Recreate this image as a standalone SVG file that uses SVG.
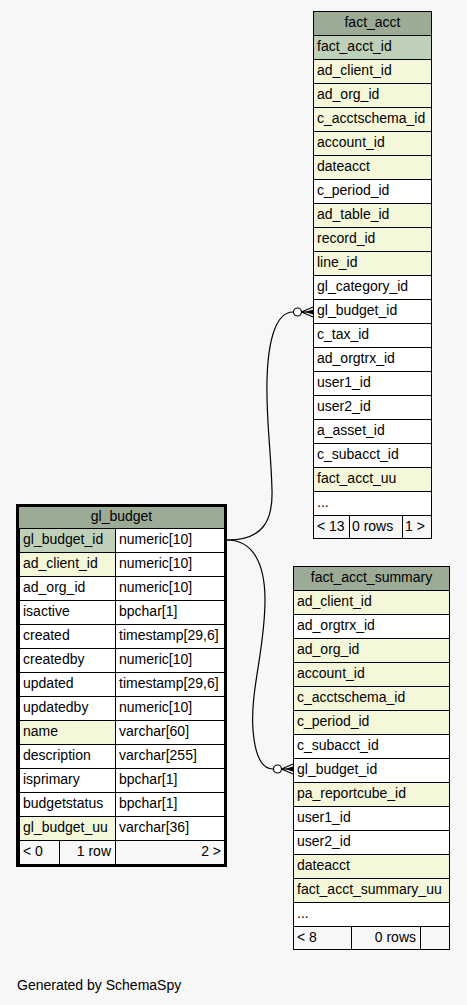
<svg xmlns="http://www.w3.org/2000/svg" width="467" height="1005" viewBox="0 0 467 1005">
<style>
text{font-family:"Liberation Sans",Arial,sans-serif;font-size:14px;fill:#000}
.c{text-anchor:middle}.r{text-anchor:end}
.t rect{stroke:#000;stroke-width:1}
.h{fill:#9bab96}.p{fill:#bed1b8}.y{fill:#f4f7da}.w{fill:#fff}.f{fill:#f7f7f7}
.e{fill:none;stroke:#000;stroke-width:1.2}
</style>
<rect x="0" y="0" width="467" height="1005" fill="#f7f7f7"/>
<g id="connectors">
<path class="e" d="M227,540 C262,540 273,522 272,490 C271,450 266,420 267,380 C268,340 276,312 293,312"/>
<path class="e" d="M227,540 C252,540 265,562 265,600 C265,650 250,690 253,730 C255,755 262,769 273,769"/>
<circle cx="297.5" cy="312" r="4" fill="#fff" stroke="#000" stroke-width="1.2"/>
<path d="M301.5,312 L313,307 M301.5,312 L313,312 M301.5,312 L313,317" stroke="#000" stroke-width="1.2" fill="none"/>
<path d="M305,312 L313,309.5 L313,314.5 Z" fill="#000"/>
<circle cx="277.5" cy="769" r="4" fill="#fff" stroke="#000" stroke-width="1.2"/>
<path d="M281.5,769 L293,764 M281.5,769 L293,769 M281.5,769 L293,774" stroke="#000" stroke-width="1.2" fill="none"/>
<path d="M285,769 L293,766.5 L293,771.5 Z" fill="#000"/>
</g>
<g id="fact_acct" class="t">
<rect class="h" x="313.5" y="11.5" width="118" height="24"/><text class="c" x="372.5" y="27">fact_acct</text>
<rect class="p" x="313.5" y="35.5" width="118" height="24"/><text x="317" y="51">fact_acct_id</text>
<rect class="y" x="313.5" y="59.5" width="118" height="24"/><text x="317" y="75">ad_client_id</text>
<rect class="y" x="313.5" y="83.5" width="118" height="24"/><text x="317" y="99">ad_org_id</text>
<rect class="y" x="313.5" y="107.5" width="118" height="24"/><text x="317" y="123">c_acctschema_id</text>
<rect class="y" x="313.5" y="131.5" width="118" height="24"/><text x="317" y="147">account_id</text>
<rect class="y" x="313.5" y="155.5" width="118" height="24"/><text x="317" y="171">dateacct</text>
<rect class="w" x="313.5" y="179.5" width="118" height="24"/><text x="317" y="195">c_period_id</text>
<rect class="y" x="313.5" y="203.5" width="118" height="24"/><text x="317" y="219">ad_table_id</text>
<rect class="y" x="313.5" y="227.5" width="118" height="24"/><text x="317" y="243">record_id</text>
<rect class="y" x="313.5" y="251.5" width="118" height="24"/><text x="317" y="267">line_id</text>
<rect class="w" x="313.5" y="275.5" width="118" height="24"/><text x="317" y="291">gl_category_id</text>
<rect class="w" x="313.5" y="299.5" width="118" height="24"/><text x="317" y="315">gl_budget_id</text>
<rect class="w" x="313.5" y="323.5" width="118" height="24"/><text x="317" y="339">c_tax_id</text>
<rect class="w" x="313.5" y="347.5" width="118" height="24"/><text x="317" y="363">ad_orgtrx_id</text>
<rect class="w" x="313.5" y="371.5" width="118" height="24"/><text x="317" y="387">user1_id</text>
<rect class="w" x="313.5" y="395.5" width="118" height="24"/><text x="317" y="411">user2_id</text>
<rect class="w" x="313.5" y="419.5" width="118" height="24"/><text x="317" y="435">a_asset_id</text>
<rect class="w" x="313.5" y="443.5" width="118" height="24"/><text x="317" y="459">c_subacct_id</text>
<rect class="y" x="313.5" y="467.5" width="118" height="24"/><text x="317" y="483">fact_acct_uu</text>
<rect class="w" x="313.5" y="491.5" width="118" height="24"/><text x="317" y="507">...</text>
<rect class="f" x="313.5" y="515.5" width="36" height="23"/><text x="317" y="531">&lt; 13</text>
<rect class="f" x="349.5" y="515.5" width="53" height="23"/><text x="352" y="531">0 rows</text>
<rect class="f" x="402.5" y="515.5" width="29" height="23"/><text x="405" y="531">1 &gt;</text>
</g>
<g id="gl_budget" class="t">
<rect class="h" x="19" y="506" width="205" height="22.5" style="stroke:none"/><text class="c" x="121.5" y="521">gl_budget</text>
<rect class="p" x="19.5" y="528.5" width="96" height="24"/><rect class="w" x="115.5" y="528.5" width="109" height="24"/>
<text x="23" y="544">gl_budget_id</text><text x="119" y="544">numeric[10]</text>
<rect class="y" x="19.5" y="552.5" width="96" height="24"/><rect class="w" x="115.5" y="552.5" width="109" height="24"/>
<text x="23" y="568">ad_client_id</text><text x="119" y="568">numeric[10]</text>
<rect class="w" x="19.5" y="576.5" width="96" height="24"/><rect class="w" x="115.5" y="576.5" width="109" height="24"/>
<text x="23" y="592">ad_org_id</text><text x="119" y="592">numeric[10]</text>
<rect class="w" x="19.5" y="600.5" width="96" height="24"/><rect class="w" x="115.5" y="600.5" width="109" height="24"/>
<text x="23" y="616">isactive</text><text x="119" y="616">bpchar[1]</text>
<rect class="w" x="19.5" y="624.5" width="96" height="24"/><rect class="w" x="115.5" y="624.5" width="109" height="24"/>
<text x="23" y="640">created</text><text x="119" y="640">timestamp[29,6]</text>
<rect class="w" x="19.5" y="648.5" width="96" height="24"/><rect class="w" x="115.5" y="648.5" width="109" height="24"/>
<text x="23" y="664">createdby</text><text x="119" y="664">numeric[10]</text>
<rect class="w" x="19.5" y="672.5" width="96" height="24"/><rect class="w" x="115.5" y="672.5" width="109" height="24"/>
<text x="23" y="688">updated</text><text x="119" y="688">timestamp[29,6]</text>
<rect class="w" x="19.5" y="696.5" width="96" height="24"/><rect class="w" x="115.5" y="696.5" width="109" height="24"/>
<text x="23" y="712">updatedby</text><text x="119" y="712">numeric[10]</text>
<rect class="y" x="19.5" y="720.5" width="96" height="24"/><rect class="w" x="115.5" y="720.5" width="109" height="24"/>
<text x="23" y="736">name</text><text x="119" y="736">varchar[60]</text>
<rect class="w" x="19.5" y="744.5" width="96" height="24"/><rect class="w" x="115.5" y="744.5" width="109" height="24"/>
<text x="23" y="760">description</text><text x="119" y="760">varchar[255]</text>
<rect class="w" x="19.5" y="768.5" width="96" height="24"/><rect class="w" x="115.5" y="768.5" width="109" height="24"/>
<text x="23" y="784">isprimary</text><text x="119" y="784">bpchar[1]</text>
<rect class="w" x="19.5" y="792.5" width="96" height="24"/><rect class="w" x="115.5" y="792.5" width="109" height="24"/>
<text x="23" y="808">budgetstatus</text><text x="119" y="808">bpchar[1]</text>
<rect class="y" x="19.5" y="816.5" width="96" height="24"/><rect class="w" x="115.5" y="816.5" width="109" height="24"/>
<text x="23" y="832">gl_budget_uu</text><text x="119" y="832">varchar[36]</text>
<rect class="f" x="19.5" y="840.5" width="40" height="24"/><rect class="f" x="59.5" y="840.5" width="56" height="24"/><rect class="f" x="115.5" y="840.5" width="109" height="24"/>
<text x="23" y="856">&lt; 0</text><text class="r" x="111" y="856">1 row</text><text class="r" x="221" y="856">2 &gt;</text>
<rect x="17.5" y="505.5" width="208" height="360" fill="none" style="stroke-width:3"/>
</g>
<g id="fact_acct_summary" class="t">
<rect class="h" x="293.5" y="566.5" width="156" height="24"/><text class="c" x="371.5" y="582">fact_acct_summary</text>
<rect class="y" x="293.5" y="590.5" width="156" height="24"/><text x="297" y="606">ad_client_id</text>
<rect class="w" x="293.5" y="614.5" width="156" height="24"/><text x="297" y="630">ad_orgtrx_id</text>
<rect class="y" x="293.5" y="638.5" width="156" height="24"/><text x="297" y="654">ad_org_id</text>
<rect class="y" x="293.5" y="662.5" width="156" height="24"/><text x="297" y="678">account_id</text>
<rect class="y" x="293.5" y="686.5" width="156" height="24"/><text x="297" y="702">c_acctschema_id</text>
<rect class="y" x="293.5" y="710.5" width="156" height="24"/><text x="297" y="726">c_period_id</text>
<rect class="w" x="293.5" y="734.5" width="156" height="24"/><text x="297" y="750">c_subacct_id</text>
<rect class="w" x="293.5" y="758.5" width="156" height="24"/><text x="297" y="774">gl_budget_id</text>
<rect class="y" x="293.5" y="782.5" width="156" height="24"/><text x="297" y="798">pa_reportcube_id</text>
<rect class="w" x="293.5" y="806.5" width="156" height="24"/><text x="297" y="822">user1_id</text>
<rect class="w" x="293.5" y="830.5" width="156" height="24"/><text x="297" y="846">user2_id</text>
<rect class="y" x="293.5" y="854.5" width="156" height="24"/><text x="297" y="870">dateacct</text>
<rect class="y" x="293.5" y="878.5" width="156" height="24"/><text x="297" y="894">fact_acct_summary_uu</text>
<rect class="w" x="293.5" y="902.5" width="156" height="24"/><text x="297" y="918">...</text>
<rect class="f" x="293.5" y="926.5" width="58" height="23"/><rect class="f" x="351.5" y="926.5" width="69" height="23"/><rect class="f" x="420.5" y="926.5" width="29" height="23"/>
<text x="297" y="942">&lt; 8</text><text class="r" x="416" y="942">0 rows</text>
</g>
<text x="17" y="990">Generated by SchemaSpy</text>
</svg>
